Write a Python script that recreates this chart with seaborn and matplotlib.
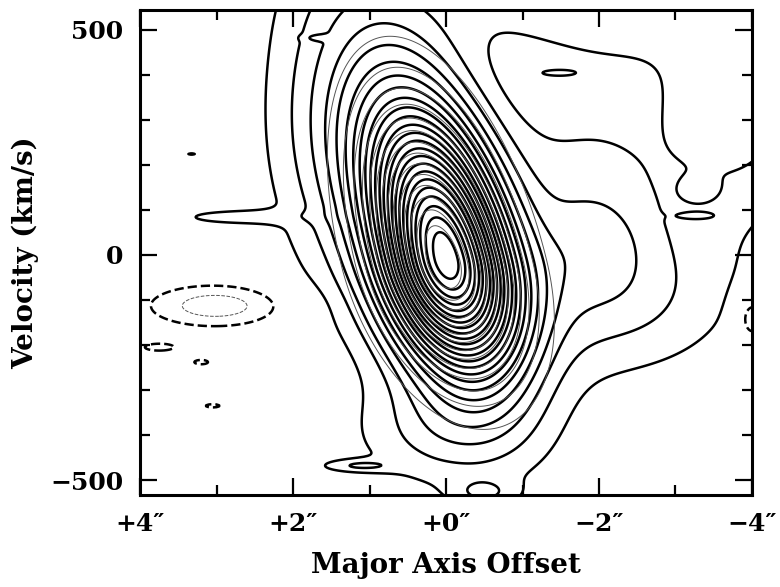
import numpy as np
import matplotlib
matplotlib.use("Agg")
import matplotlib.pyplot as plt
import seaborn as sns

# --- values ----------------------------------------------------------------
# main rotating disk (data): centre, widths, shear and peak (in contour steps)
disk_x0, disk_v0 = 0.0, -10
disk_sx = 0.58
disk_sv_up, disk_sv_dn = 230, 170
disk_shear = 0.0013
disk_amp = 22

# broad envelope around the disk (data)
env_x0, env_v0 = 0.1, 0
env_sx = 0.9
env_sv_up, env_sv_dn = 400, 260
env_amp = 2.4

# extra emission patches and negative holes (data)
# columns: offset ("), velocity (km/s), width ("), height (km/s), peak
blob_x = [-2.9, -2.3, -1.7, -1.9, -3.8, -2.0,
          1.45, 2.8, 0.15, 1.15, -0.5,
          -3.33, -3.33, -1.45, 1.68, 3.33,
          3.0, 3.75, 3.2, 3.05, -4.0]
blob_v = [280, -100, 110, 600, 330, 30,
          300, 84, -400, -468, -528,
          142, 87, 404, 482, 224,
          -113, -205, -238, -335, -140]
blob_sx = [1.5, 1.0, 0.8, 1.7, 0.6, 0.45,
           0.65, 0.55, 0.8, 0.35, 0.3,
           0.18, 0.2, 0.2, 0.12, 0.15,
           0.62, 0.25, 0.15, 0.15, 0.15]
blob_sv = [250, 115, 180, 110, 130, 80,
           230, 12, 80, 10, 22,
           22, 7, 6, 5, 6,
           33, 10, 8, 6, 40]
blob_amp = [1.2, 1.7, 1.3, 2.5, 1.8, 1.0,
            2.0, 1.4, 1.5, 1.6, 1.5,
            0.9, 0.8, 0.7, 1.0, 1.0,
            -2.6, -1.3, -1.2, -1.2, -2.0]

data_levels = list(range(1, 25))
neg_levels = [-2, -1]

# model disk (thin grey contours)
model_x0, model_v0 = 0.03, -15
model_sx = 0.58
model_sv_up, model_sv_dn = 215, 160
model_shear = 0.0014
model_amp = 15
model_levels = list(range(1, 15))

x_ticks = [4, 2, 0, -2, -4]
x_labels = ["+4\u2033", "+2\u2033", "+0\u2033", "\u22122\u2033", "\u22124\u2033"]
y_ticks = [-500, 0, 500]
y_labels = ["\u2212500", "0", "500"]


def sheared(X, V, x0, v0, sx, sv_up, sv_dn, k):
    dv = V - v0
    u = X - x0 - k * dv
    sv = np.where(dv > 0, sv_up, sv_dn)
    return np.exp(-0.5 * ((u / sx) ** 2 + (dv / sv) ** 2))


xg = np.linspace(-4.3, 4.3, 431)
vg = np.linspace(-560, 560, 561)
X, V = np.meshgrid(xg, vg)

data = disk_amp * sheared(X, V, disk_x0, disk_v0, disk_sx, disk_sv_up, disk_sv_dn, disk_shear)
data += env_amp * sheared(X, V, env_x0, env_v0, env_sx, env_sv_up, env_sv_dn, disk_shear)
for bx, bv, sx, sv, a in zip(blob_x, blob_v, blob_sx, blob_sv, blob_amp):
    data += a * sheared(X, V, bx, bv, sx, sv, sv, 0)

model = model_amp * sheared(X, V, model_x0, model_v0, model_sx, model_sv_up, model_sv_dn, model_shear)

# --- drawing -----------------------------------------------------------------
sns.set_style("ticks")
plt.rcParams["font.family"] = ["DejaVu Serif"]
plt.rcParams["font.weight"] = "bold"
plt.rcParams["text.color"] = "black"
plt.rcParams["axes.labelcolor"] = "black"

fig = plt.figure(figsize=(7.8, 5.87), dpi=100)
ax = fig.add_axes([0.1795, 0.1567, 0.7846, 0.8265])

ax.contour(xg, vg, data, levels=data_levels, colors="black",
           linewidths=1.8, linestyles="solid")
ax.contour(xg, vg, data, levels=neg_levels, colors=["#555555", "black"],
           linewidths=[0.7, 1.8], linestyles="dashed")
ax.contour(xg, vg, model, levels=model_levels, colors="#555555",
           linewidths=0.7, linestyles="solid")

ax.set_xlim(4, -4)
ax.set_ylim(-533, 544)
ax.set_xticks(x_ticks)
ax.set_xticklabels(x_labels)
ax.set_xticks([3, 1, -1, -3], minor=True)
ax.set_yticks(y_ticks)
ax.set_yticklabels(y_labels)
ax.set_yticks(np.arange(-400, 401, 100), minor=True)
ax.tick_params(which="both", direction="in", top=True, right=True,
               width=1.6, colors="black", labelsize=18)
ax.tick_params(which="major", length=12, pad=12)
ax.tick_params(which="minor", length=7)
for s in ax.spines.values():
    s.set_linewidth(2.2)
    s.set_color("black")

ax.set_xlabel("Major Axis Offset", fontsize=20, fontweight="bold", labelpad=12)
ax.set_ylabel("Velocity (km/s)", fontsize=20, fontweight="bold", labelpad=8)

fig.savefig("out.png", dpi=100)
